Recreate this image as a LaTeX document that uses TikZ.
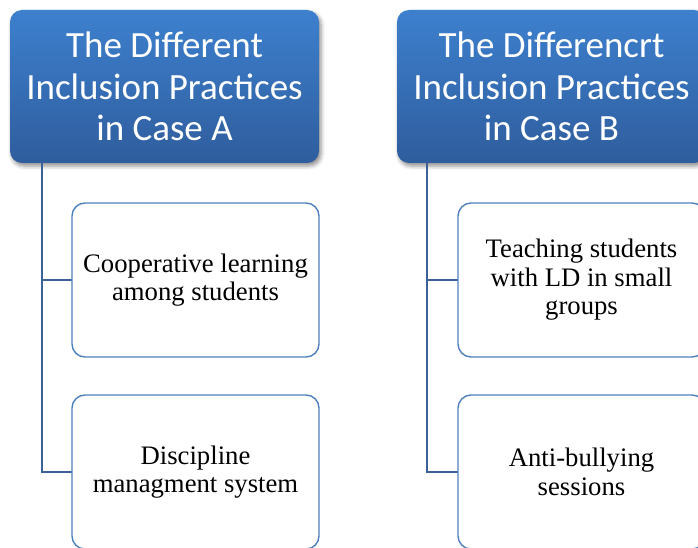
\documentclass[tikz,border=0pt]{standalone}
\usepackage{fontspec}
\setmainfont{Liberation Serif}
\newfontfamily\hdrfont{Carlito}
\usetikzlibrary{shadows.blur}
\definecolor{hdtop}{RGB}{61,128,206}
\definecolor{hdbot}{RGB}{47,93,157}
\definecolor{lineblue}{RGB}{60,96,152}
\definecolor{boxblue}{RGB}{79,129,189}
\tikzset{
  hdr/.style={rectangle, rounded corners=12pt, minimum width=309pt, minimum height=153pt,
    top color=hdtop, bottom color=hdbot, draw=none, text=white, align=center,
    font=\hdrfont\fontsize{37}{41.5}\selectfont,
    blur shadow={shadow xshift=2pt, shadow yshift=-3pt, shadow opacity=45, shadow blur radius=4pt}},
  child/.style={rectangle, rounded corners=13pt, minimum width=247pt, minimum height=154pt,
    draw=boxblue, line width=1.4pt, fill=white, align=center, text=black,
    font=\fontsize{26.7}{28.5}\selectfont},
  conn/.style={draw=lineblue, line width=1.5pt}
}
\begin{document}
\begin{tikzpicture}[x=1pt,y=-1pt]
\useasboundingbox (0,0) rectangle (698,548);
\clip (0,0) rectangle (698,548);
\node[hdr] (hA) at (164.5,86.5) {The Different\\Inclusion Practices\\in Case A};
\node[hdr] (hB) at (551.5,86.5) {The Differencrt\\Inclusion Practices\\in Case B};
\draw[conn] ([xshift=32pt]hA.south west) |- (195.5,472) coordinate (a2c);
\draw[conn] ([xshift=32pt]hA.south west) |- (195.5,280) coordinate (a1c);
\draw[conn] ([xshift=30pt]hB.south west) |- (581.5,472) coordinate (b2c);
\draw[conn] ([xshift=30pt]hB.south west) |- (581.5,280) coordinate (b1c);
\node[child] (a1) at (195.5,280) {Cooperative learning\\among students};
\node[child] (a2) at (195.5,472) {Discipline\\managment system};
\node[child] (b1) at (581.5,280) {Teaching students\\with LD in small\\groups};
\node[child] (b2) at (581.5,472) {Anti-bullying\\sessions};
\end{tikzpicture}
\end{document}
